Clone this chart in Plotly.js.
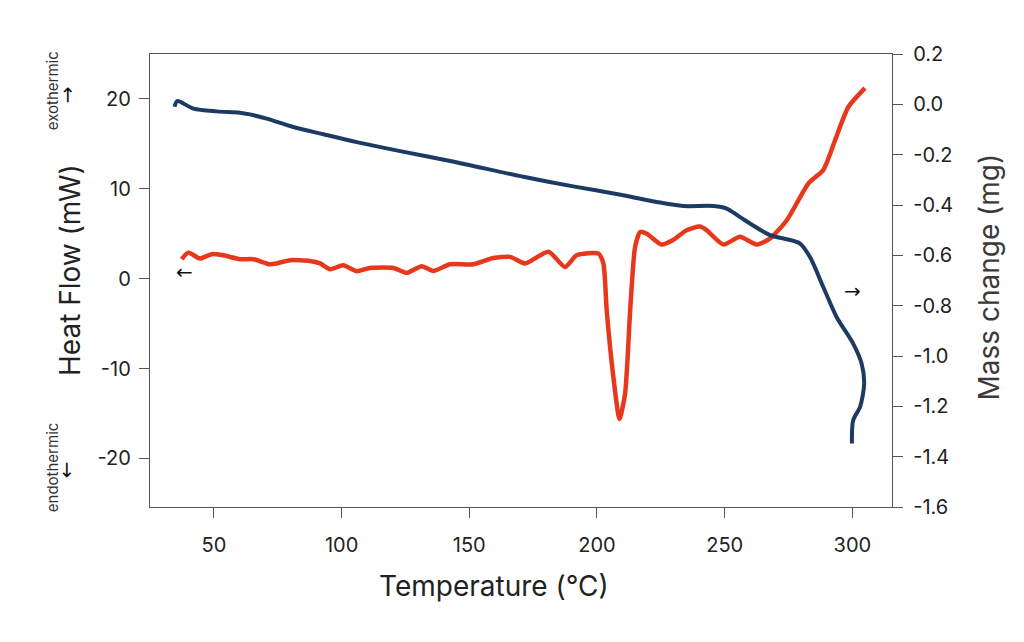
<!DOCTYPE html>
<html>
<head>
<meta charset="utf-8">
<script src="https://cdn.plot.ly/plotly-3.0.1.min.js"></script>
<style>html,body{margin:0;padding:0;background:#fff;}#chart{width:1024px;height:642px;}</style>
</head>
<body>
<div id="chart"></div>
<script>
// Heat flow (left axis, mW)
const heatTemp = [37.4,40,44.6,49.1,53.7,60.2,65.4,72,74.6,79.8,87.6,91.6,95.5,100.7,105.9,111.1,120.3,125.5,131.4,135.9,142.5,151.6,159.4,166,171.8,181,187.5,192,200.5,202.5,203.8,206.4,208.8,211,213,214.9,216.9,219.5,225.3,229.8,235.1,240.3,242.9,249.5,256,262.5,267.8,274.3,282.8,288.6,293.2,298.4,304.9];
const heatFlow = [2.17,2.9,2.25,2.73,2.6,2.17,2.17,1.6,1.7,2.06,1.98,1.7,1.06,1.5,0.84,1.2,1.2,0.65,1.39,0.87,1.6,1.6,2.3,2.43,1.7,3.0,1.3,2.6,2.8,1.7,-3.5,-10.9,-15.6,-12.8,-3.5,3.5,5.2,5.0,3.8,4.3,5.4,5.8,5.4,3.8,4.66,3.8,4.48,6.5,10.6,12.1,15.4,19.1,21.2];
// Mass change (right axis, mg)
const massTemp = [34.6,35.7,42,51.1,60.2,64.1,70.7,81.1,92.9,105.9,122.9,142.5,151.6,171.2,190.7,210.3,223.4,233.8,245.6,250.8,256,267.8,274.3,279.5,283.4,288.6,293.8,300.3,303.6,304.6,303,300.3,299.8];
const massChange = [-0.01,0.013,-0.017,-0.028,-0.033,-0.04,-0.057,-0.09,-0.119,-0.15,-0.186,-0.225,-0.245,-0.288,-0.326,-0.361,-0.388,-0.404,-0.404,-0.414,-0.448,-0.52,-0.536,-0.553,-0.607,-0.726,-0.845,-0.951,-1.03,-1.11,-1.202,-1.255,-1.348];
// Tick labels
const xTickVals = [50,100,150,200,250,300];
const yTickVals = [20,10,0,-10,-20];
const yTickText = ["20","10","0","-10","-20"];
const y2TickVals = [0.2,0,-0.2,-0.4,-0.6,-0.8,-1.0,-1.2,-1.4,-1.6];
const y2TickText = ["0.2","0.0","-0.2","-0.4","-0.6","-0.8","-1.0","-1.2","-1.4","-1.6"];

const FONT = "Inter, 'Open Sans', sans-serif";
const axisLine = '#555';

const traces = [
  {x: massTemp, y: massChange, yaxis: 'y2', type: 'scatter', mode: 'lines',
   line: {color: '#1d3a63', width: 4, shape: 'spline', smoothing: 0.8}, hoverinfo: 'skip'},
  {x: heatTemp, y: heatFlow, type: 'scatter', mode: 'lines',
   line: {color: '#e8381c', width: 4.5, shape: 'spline', smoothing: 0.6}, hoverinfo: 'skip'}
];

const arrowSpan = (a) => '<span style="font-family:DejaVu Sans;font-size:20px">' + a + '</span>';

const layout = {
  width: 1024, height: 642,
  margin: {l: 150, r: 132, t: 54, b: 135, pad: 0},
  paper_bgcolor: '#fff', plot_bgcolor: '#fff',
  showlegend: false,
  font: {family: FONT, color: '#222', size: 20},
  xaxis: {range: [25, 315.5], tickvals: xTickVals, ticks: 'outside', ticklen: 10, tickcolor: axisLine,
          showline: true, linecolor: axisLine, linewidth: 1.2, mirror: true, showgrid: false, zeroline: false,
          tickfont: {size: 20, color: '#222'}, ticklabelstandoff: 10},
  yaxis: {range: [-25.4, 25], tickvals: yTickVals, ticktext: yTickText, ticks: 'outside', ticklen: 10, tickcolor: axisLine,
          showline: true, linecolor: axisLine, linewidth: 1.2, mirror: true, showgrid: false, zeroline: false,
          tickfont: {size: 20, color: '#222'}, ticklabelstandoff: 4},
  yaxis2: {range: [-1.6, 0.2], overlaying: 'y', side: 'right', tickvals: y2TickVals, ticktext: y2TickText,
           ticks: 'outside', ticklen: 10, tickcolor: axisLine, showline: true, linecolor: axisLine, linewidth: 1.2,
           showgrid: false, zeroline: false, tickfont: {size: 20, color: '#222'}, ticklabelstandoff: 6},
  annotations: [
    {text: 'Heat Flow (mW)', xref: 'paper', yref: 'paper', x: -0.108, y: 0.523, textangle: -90,
     showarrow: false, xanchor: 'center', yanchor: 'middle', font: {size: 28, color: '#222'}},
    {text: 'Mass change (mg)', xref: 'paper', yref: 'paper', x: 1.131, y: 0.507, textangle: -90,
     showarrow: false, xanchor: 'center', yanchor: 'middle', font: {size: 28, color: '#3a3a3a'}},
    {text: 'Temperature (°C)', xref: 'paper', yref: 'paper', x: 0.464, y: -0.175,
     showarrow: false, xanchor: 'center', yanchor: 'middle', font: {size: 28, color: '#222'}},
    {text: 'exothermic', xref: 'paper', yref: 'paper', x: -0.132, y: 0.918, textangle: -90,
     showarrow: false, xanchor: 'center', yanchor: 'middle', font: {size: 15, color: '#333'}},
    {text: arrowSpan('→'), xref: 'paper', yref: 'paper', x: -0.112, y: 0.911, textangle: -90,
     showarrow: false, xanchor: 'center', yanchor: 'middle', font: {size: 20, color: '#111'}},
    {text: 'endothermic', xref: 'paper', yref: 'paper', x: -0.132, y: 0.088, textangle: -90,
     showarrow: false, xanchor: 'center', yanchor: 'middle', font: {size: 15, color: '#333'}},
    {text: arrowSpan('←'), xref: 'paper', yref: 'paper', x: -0.112, y: 0.083, textangle: -90,
     showarrow: false, xanchor: 'center', yanchor: 'middle', font: {size: 20, color: '#111'}},
    {text: arrowSpan('←'), xref: 'x', yref: 'y', x: 38.7, y: 0.7, showarrow: false, xanchor: 'center', yanchor: 'middle',
     font: {size: 20, color: '#111'}},
    {text: arrowSpan('→'), xref: 'x', yref: 'y2', x: 300.2, y: -0.743, showarrow: false, xanchor: 'center', yanchor: 'middle',
     font: {size: 20, color: '#111'}}
  ]
};

Plotly.newPlot('chart', traces, layout, {staticPlot: true, displayModeBar: false});
</script>
</body>
</html>
